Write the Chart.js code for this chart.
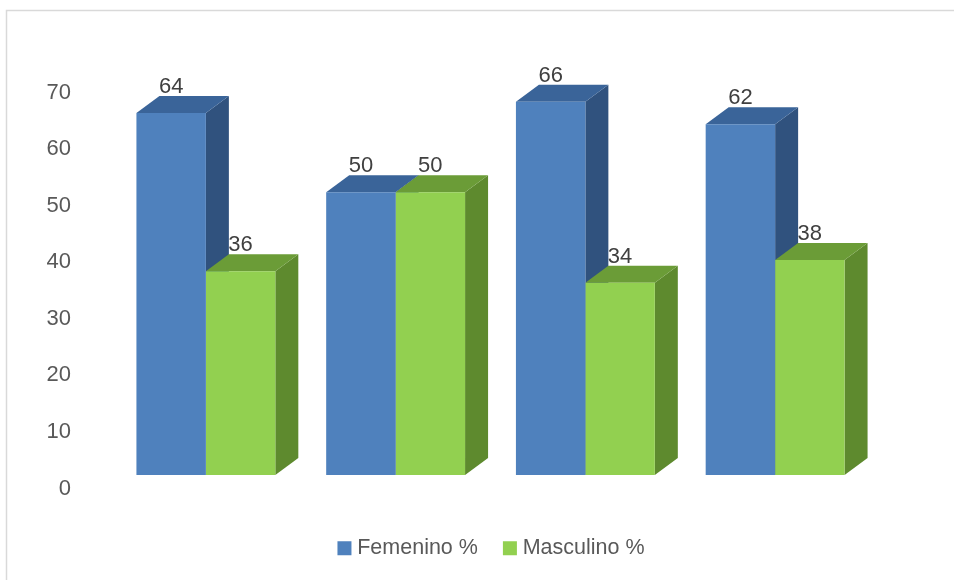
<!DOCTYPE html>
<html><head><meta charset="utf-8">
<style>html,body{margin:0;padding:0;background:#fff}canvas{display:block}</style>
<script src="https://cdn.jsdelivr.net/npm/chart.js@4"></script>
</head><body>
<canvas id="c" width="954" height="580"></canvas>
<script>
const categories = ['1', '2', '3', '4'];
const femenino = [64, 50, 66, 62];
const masculino = [36, 50, 34, 38];
const axisTicks = [0, 10, 20, 30, 40, 50, 60, 70];
const FONT = '"Liberation Sans Narrow", "Liberation Sans", sans-serif';
const DX = 23, DY = 17;
const faces = [
  {side: '#30527e', top: '#3a6499'},
  {side: '#5e8a2e', top: '#6b9c37'}
];
const poly = (ctx, pts, col) => {
  ctx.fillStyle = col; ctx.beginPath();
  pts.forEach((p, i) => i ? ctx.lineTo(p[0], p[1]) : ctx.moveTo(p[0], p[1]));
  ctx.closePath(); ctx.fill();
};
const depth = {
  id: 'depth',
  afterLayout(chart) {
    chart.legend.left += 3; chart.legend.right += 3;
  },
  beforeDraw(chart) {
    const ctx = chart.ctx; ctx.save();
    ctx.strokeStyle = '#d9d9d9'; ctx.lineWidth = 1.5; ctx.beginPath();
    ctx.moveTo(6.5, 580); ctx.lineTo(6.5, 10.5); ctx.lineTo(954, 10.5); ctx.stroke();
    ctx.restore();
  },
  beforeDatasetsDraw(chart) {
    const ctx = chart.ctx; ctx.save();
    chart.data.datasets.forEach((d, i) => {
      chart.getDatasetMeta(i).data.forEach(b => {
        const p = b.getProps(['x', 'y', 'base', 'width'], true);
        const l = p.x - p.width / 2, r = p.x + p.width / 2;
        poly(ctx, [[r, p.y], [r + DX, p.y - DY], [r + DX, p.base - DY], [r, p.base]], faces[i].side);
        poly(ctx, [[l, p.y], [l + DX, p.y - DY], [r + DX, p.y - DY], [r, p.y]], faces[i].top);
      });
    });
    ctx.restore();
  },
  afterDatasetsDraw(chart) {
    const ctx = chart.ctx; ctx.save();
    ctx.fillStyle = '#404040'; ctx.font = '22px ' + FONT;
    ctx.textAlign = 'center'; ctx.textBaseline = 'middle';
    chart.data.datasets.forEach((d, i) => {
      chart.getDatasetMeta(i).data.forEach((b, j) => {
        const p = b.getProps(['x', 'y'], true);
        ctx.fillText(String(d.data[j]), p.x, p.y - 26);
      });
    });
    ctx.restore();
  }
};
new Chart(document.getElementById('c'), {
  type: 'bar',
  plugins: [depth],
  data: {
    labels: categories,
    datasets: [
      {label: 'Femenino %', data: femenino, backgroundColor: '#4f81bd', yAxisID: 'yBars', categoryPercentage: 0.732, barPercentage: 1},
      {label: 'Masculino %', data: masculino, backgroundColor: '#92d050', yAxisID: 'yBars', categoryPercentage: 0.732, barPercentage: 1}
    ]
  },
  options: {
    responsive: false, animation: false, devicePixelRatio: 1,
    clip: false,
    layout: {padding: {top: 92.5, right: 84, bottom: 11, left: 0}},
    plugins: {
      tooltip: {enabled: false},
      legend: {
        position: 'bottom', fullSize: false,
        labels: {
          boxWidth: 4, boxHeight: 4, padding: 30, color: '#595959',
          font: {family: FONT, size: 21.5},
          generateLabels(chart) {
            return chart.data.datasets.map((d, i) => ({
              text: d.label, fillStyle: d.backgroundColor, strokeStyle: d.backgroundColor,
              lineWidth: 10, datasetIndex: i, fontColor: '#595959'
            }));
          }
        }
      }
    },
    scales: {
      x: {
        display: true, grid: {display: false}, border: {display: false},
        ticks: {display: false},
        afterFit(s) { s.height = 19; }
      },
      y: {
        position: 'left', min: 0, max: 70,
        grid: {display: false}, border: {display: false},
        afterFit(s) { s.width = 111; },
        afterBuildTicks(s) { s.ticks = axisTicks.map(v => ({value: v})); },
        ticks: {padding: 32, color: '#595959', font: {family: FONT, size: 22}}
      },
      yBars: {display: false, min: -2.385, max: 67.615}
    }
  }
});
</script>
</body></html>
